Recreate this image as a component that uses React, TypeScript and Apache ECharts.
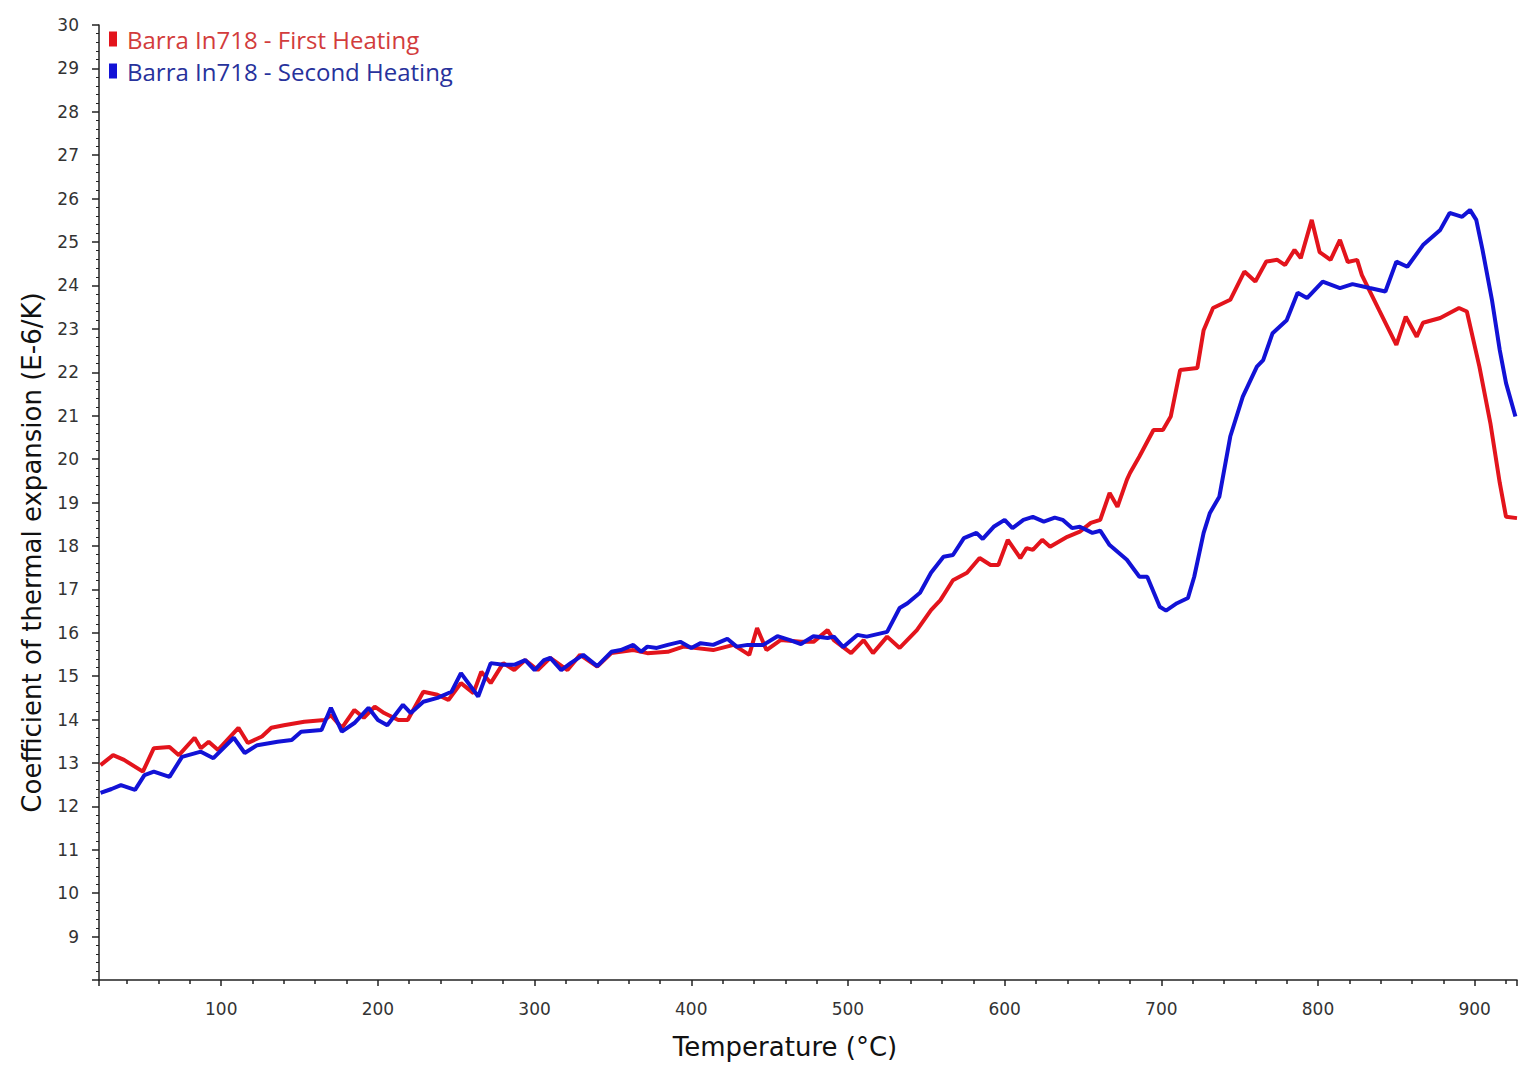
import { useRef, useEffect } from "react"
import * as echarts from "echarts"

// First heating (red): temperature (°C) and CTE (E-6/K)
const firstHeatingTemp = [
  23, 31, 38, 50, 57, 67, 73, 83, 87, 92, 98, 111, 117, 126, 132, 140, 153, 166, 170, 177,
  185, 191, 198, 204, 213, 219, 229, 238, 245, 253, 261, 266, 272, 280, 287, 294, 302, 310, 321, 329,
  340, 349, 363, 372, 385, 395, 414, 427, 437, 442, 448, 457, 470, 478, 487, 491, 502, 510, 516, 525,
  533, 544, 553, 559, 567, 576, 584, 591, 596, 602, 610, 614, 618, 624, 629, 640, 648, 655, 661, 667,
  672, 678, 680, 686, 695, 701, 706, 712, 723, 727, 733, 744, 753, 760, 767, 774, 779, 785, 789, 796,
  801, 808, 814, 819, 825, 828, 839, 850, 856, 863, 867, 878, 890, 895, 903, 910, 916, 920, 927,
]
const firstHeatingCte = [
  12.95, 13.18, 13.07, 12.8, 13.34, 13.37, 13.18, 13.58, 13.34, 13.49, 13.3, 13.81, 13.46, 13.61, 13.81, 13.87, 13.95, 13.99, 14.1, 13.81,
  14.22, 14.04, 14.3, 14.15, 13.99, 13.99, 14.64, 14.57, 14.45, 14.84, 14.61, 15.1, 14.84, 15.3, 15.14, 15.37, 15.14, 15.42, 15.14, 15.49,
  15.22, 15.53, 15.6, 15.53, 15.56, 15.68, 15.6, 15.72, 15.49, 16.11, 15.6, 15.83, 15.79, 15.79, 16.06, 15.83, 15.53, 15.83, 15.53, 15.91,
  15.65, 16.06, 16.52, 16.75, 17.21, 17.38, 17.72, 17.56, 17.56, 18.14, 17.72, 17.95, 17.91, 18.14, 17.98, 18.21, 18.33, 18.53, 18.6, 19.22,
  18.9, 19.52, 19.68, 20.06, 20.67, 20.67, 20.98, 22.05, 22.1, 22.97, 23.48, 23.67, 24.32, 24.09, 24.55, 24.59, 24.47, 24.82, 24.63, 25.51,
  24.77, 24.59, 25.05, 24.54, 24.59, 24.24, 23.43, 22.63, 23.28, 22.82, 23.14, 23.25, 23.48, 23.4, 22.13, 20.83, 19.45, 18.67, 18.64,
]

// Second heating (blue)
const secondHeatingTemp = [
  23, 30, 36, 45, 51, 57, 67, 75, 87, 95, 108, 115, 123, 136, 145, 151, 164, 170, 177, 185,
  194, 200, 206, 216, 221, 229, 238, 247, 253, 264, 272, 280, 287, 294, 300, 306, 310, 317, 323, 331,
  340, 349, 355, 363, 368, 372, 378, 385, 393, 400, 406, 414, 423, 429, 436, 446, 455, 463, 470, 478,
  487, 491, 497, 506, 512, 525, 533, 538, 546, 553, 561, 567, 574, 582, 586, 593, 600, 605, 612, 618,
  625, 632, 637, 643, 648, 656, 661, 667, 678, 686, 691, 699, 703, 710, 717, 721, 727, 731, 737, 744,
  752, 761, 765, 771, 780, 787, 793, 803, 814, 822, 833, 843, 850, 857, 867, 878, 884, 892, 897, 901,
  905, 911, 916, 920, 926,
]
const secondHeatingCte = [
  12.31, 12.4, 12.49, 12.38, 12.72, 12.8, 12.68, 13.14, 13.26, 13.11, 13.58, 13.23, 13.41, 13.49, 13.53, 13.72, 13.76, 14.27, 13.72, 13.92,
  14.27, 13.99, 13.87, 14.34, 14.15, 14.41, 14.5, 14.64, 15.07, 14.53, 15.3, 15.26, 15.26, 15.37, 15.14, 15.37, 15.42, 15.14, 15.3, 15.49,
  15.23, 15.56, 15.6, 15.72, 15.56, 15.68, 15.65, 15.72, 15.79, 15.65, 15.76, 15.72, 15.86, 15.68, 15.72, 15.72, 15.92, 15.83, 15.74, 15.92,
  15.88, 15.91, 15.67, 15.95, 15.91, 16.02, 16.57, 16.68, 16.92, 17.38, 17.75, 17.79, 18.18, 18.3, 18.16, 18.44, 18.6, 18.41, 18.6, 18.67,
  18.56, 18.65, 18.6, 18.41, 18.44, 18.3, 18.35, 18.02, 17.68, 17.29, 17.29, 16.6, 16.51, 16.68, 16.8, 17.29, 18.3, 18.76, 19.13, 20.52,
  21.44, 22.13, 22.28, 22.9, 23.2, 23.83, 23.71, 24.09, 23.94, 24.03, 23.94, 23.86, 24.55, 24.43, 24.93, 25.28, 25.67, 25.58, 25.74, 25.51,
  24.82, 23.67, 22.51, 21.75, 20.98,
]

const seriesNames = ["Barra In718 - First Heating", "Barra In718 - Second Heating"]
const lineColors = ["#e3141c", "#1212d6"]
const legendTextColors = ["#d23c3c", "#27329c"]

const zip = (xs: number[], ys: number[]) => xs.map((x, i) => [x, ys[i]])

export default function App() {
  const chartRef = useRef<HTMLDivElement>(null)

  useEffect(() => {
    if (!chartRef.current) return
    const chart = echarts.init(chartRef.current, undefined, { renderer: "svg" })

    const axisLabelStyle = {
      color: "#333",
      fontSize: 17,
      fontFamily: "DejaVu Sans",
    }

    chart.setOption({
      animation: false,
      backgroundColor: "#fff",
      grid: { left: 99, right: 20, top: 25, bottom: 98, containLabel: false },
      legend: {
        orient: "vertical",
        left: 104,
        top: 21,
        itemWidth: 8,
        itemHeight: 15,
        itemGap: 6,
        icon: "rect",
        data: seriesNames.map((name, i) => ({
          name,
          textStyle: { color: legendTextColors[i] },
        })),
        textStyle: { fontSize: 24, lineHeight: 26, fontFamily: "Open Sans", padding: [0, 0, 0, 5] },
      },
      xAxis: {
        type: "value",
        min: 22,
        max: 927,
        splitNumber: 9,
        minInterval: 100,
        maxInterval: 100,
        name: "Temperature (°C)",
        nameLocation: "middle",
        nameGap: 54,
        nameTextStyle: {
          color: "#111",
          fontSize: 26,
          fontFamily: "DejaVu Sans",
          padding: [0, 46, 0, 0],
        },
        axisLine: { onZero: false, lineStyle: { color: "#222", width: 1.5 } },
        axisTick: { length: 6, lineStyle: { color: "#222", width: 1.5 } },
        minorTick: { show: true, splitNumber: 5, length: 4, lineStyle: { color: "#222", width: 1.5 } },
        axisLabel: { ...axisLabelStyle, margin: 20, showMinLabel: false, showMaxLabel: false },
        splitLine: { show: false },
      },
      yAxis: {
        type: "value",
        min: 8,
        max: 30,
        interval: 1,
        name: "Coefficient of thermal expansion (E-6/K)",
        nameLocation: "middle",
        nameRotate: 90,
        nameGap: 54,
        nameTextStyle: {
          color: "#111",
          fontSize: 26,
          fontFamily: "DejaVu Sans",
          padding: [0, 100, 0, 0],
        },
        axisLine: { onZero: false, lineStyle: { color: "#222", width: 1.5 } },
        axisTick: { length: 7, lineStyle: { color: "#222", width: 1.5 } },
        minorTick: { show: true, splitNumber: 5, length: 3, lineStyle: { color: "#222", width: 1 } },
        axisLabel: { ...axisLabelStyle, margin: 20, showMinLabel: false },
        splitLine: { show: false },
      },
      series: [
        {
          name: seriesNames[0],
          type: "line",
          data: zip(firstHeatingTemp, firstHeatingCte),
          showSymbol: false,
          color: lineColors[0],
          lineStyle: { width: 4, color: lineColors[0] },
          z: 2,
        },
        {
          name: seriesNames[1],
          type: "line",
          data: zip(secondHeatingTemp, secondHeatingCte),
          showSymbol: false,
          color: lineColors[1],
          lineStyle: { width: 4, color: lineColors[1] },
          z: 3,
        },
      ],
    })

    return () => {
      chart.dispose()
    }
  }, [])

  return (
    <div
      ref={chartRef}
      style={{ position: "fixed", left: 0, top: 0, width: 1537, height: 1078, background: "#fff" }}
    />
  )
}
